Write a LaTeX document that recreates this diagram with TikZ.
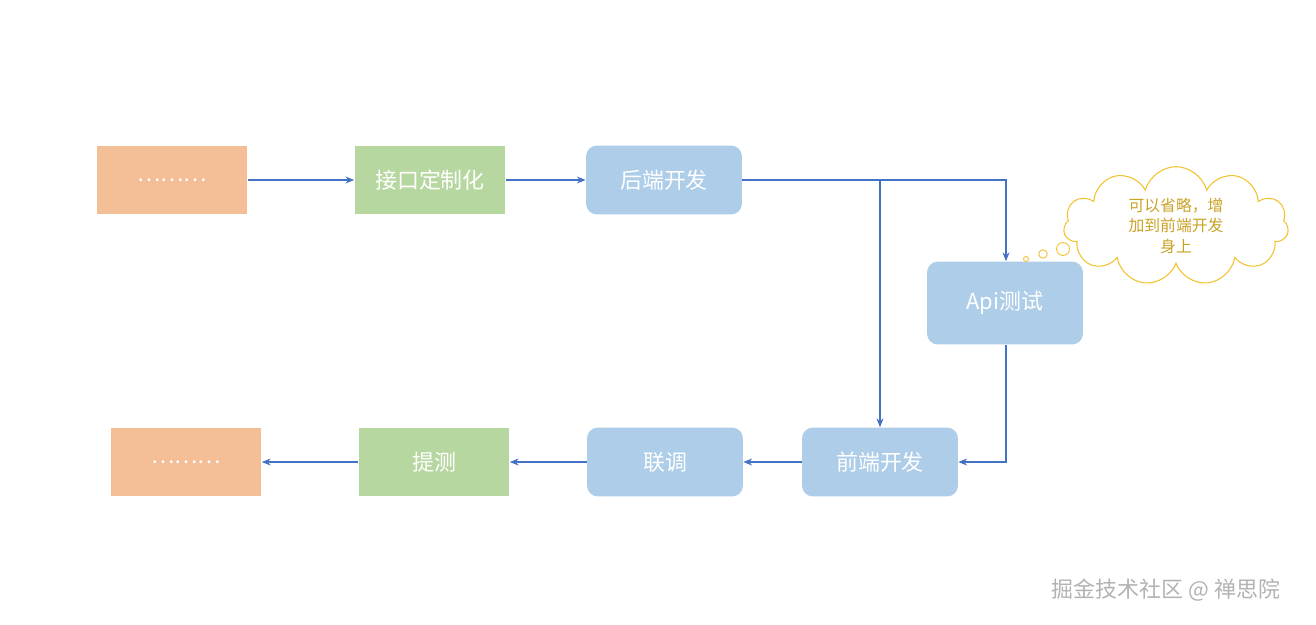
\documentclass[tikz,border=0pt]{standalone}
\usepackage{fontspec}
\setmainfont{Noto Sans CJK SC}
\usetikzlibrary{shapes.symbols,arrows.meta}
\definecolor{org}{HTML}{F4BE96}
\definecolor{grn}{HTML}{B7D7A0}
\definecolor{blu}{HTML}{ADCDE8}
\definecolor{ln}{HTML}{4472C4}
\definecolor{yel}{HTML}{F2C12E}
\definecolor{ytx}{HTML}{C9A227}
\begin{document}
\begin{tikzpicture}[x=0.02cm,y=-0.02cm,
 box/.style={minimum width=3.02cm,minimum height=1.38cm,inner sep=0,text=white,font=\fontsize{12.5}{14}\selectfont},
 sq/.style={box,fill=#1},
 rd/.style={box,fill=blu,rounded corners=0.22cm,minimum width=3.12cm},
 arr/.style={draw=ln,line width=0.6pt,-{Stealth[length=5pt,width=4pt]}}]
\useasboundingbox (0,0) rectangle (1316,625);
\node[sq=org] (d1) at (172,180) {………};
\node[sq=grn] (jk) at (430,180) {接口定制化};
\node[rd] (hd) at (664,180) {后端开发};
\node[rd,minimum height=1.66cm] (api) at (1005,303) {Api测试};
\node[rd] (qd) at (880,462) {前端开发};
\node[rd] (lt) at (665,462) {联调};
\node[sq=grn] (tc) at (434,462) {提测};
\node[sq=org] (d2) at (186,462) {………};
\coordinate (br) at (880,180);
\draw[arr] (d1) -- (jk);
\draw[arr] (jk) -- (hd);
\draw[arr] (hd.east) -- (1006,180) -- (api.north-|1006,0);
\draw[arr] (br) -- (qd.north);
\draw[arr] (api.south-|1006,0) -- (1006,462) -- (qd.east);
\draw[arr] (qd) -- (lt);
\draw[arr] (lt) -- (tc);
\draw[arr] (tc) -- (d2);
\node[cloud,cloud puffs=11,aspect=2.6,draw=yel,line width=0.6pt,minimum width=4.5cm,minimum height=1.6cm,inner sep=0,align=center,text=ytx,font=\fontsize{9}{11.5}\selectfont] (cl) at (1176,226) {可以省略，增\\加到前端开发\\身上};
\node[circle,draw=yel,line width=0.5pt,minimum size=0.1cm,inner sep=0] (b1) at (1026,259) {};
\node[circle,draw=yel,line width=0.5pt,minimum size=0.17cm,inner sep=0] (b2) at (1043,254) {};
\node[circle,draw=yel,line width=0.5pt,minimum size=0.26cm,inner sep=0] (b3) at (1063,249) {};
\node[text=gray!60,font=\fontsize{12.5}{14}\selectfont] (wm) at (1166,590) {掘金技术社区 @ 禅思院};
\end{tikzpicture}
\end{document}
